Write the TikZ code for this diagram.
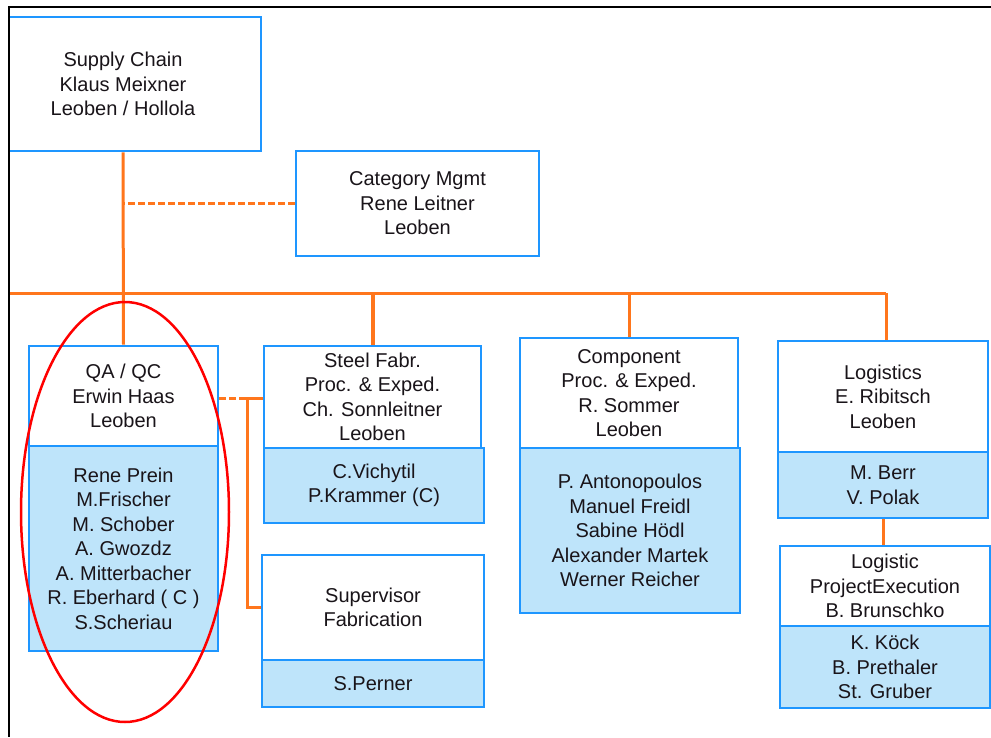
\documentclass[tikz,border=0pt]{standalone}
\usepackage{fontspec}
\newfontfamily\orgfont{Liberation Sans}
\definecolor{boxblue}{RGB}{30,150,255}
\definecolor{staffblue}{RGB}{190,228,250}
\definecolor{linkorange}{RGB}{255,118,28}
\definecolor{inkdark}{RGB}{25,20,25}
\tikzset{
  unit/.style={draw=boxblue, line width=2.6pt, fill=white, inner sep=0pt,
    align=center, text=inkdark, font={\orgfont\fontsize{20}{24.5}\selectfont}},
  staff/.style={unit, fill=staffblue},
  link/.style={draw=linkorange, line width=3pt},
  droplink/.style={link, line width=4pt},
  aux/.style={draw=linkorange, line width=3pt, dash pattern=on 7pt off 3pt},
  highlight/.style={draw=red, line width=2.5pt},
  pageframe/.style={draw=black, line width=2pt}
}
\begin{document}
\begin{tikzpicture}[x=1pt,y=-1pt]
\useasboundingbox (0,0) rectangle (991,737);
\fill[white] (0,0) rectangle (991,737);
\begin{scope}
\clip (9,7) rectangle (991,737);
% top of the chart
\node[unit, minimum width=276pt, minimum height=134pt] (supply) at (123,84)
  {Supply Chain\\Klaus Meixner\\Leoben / Hollola};
\node[unit, minimum width=243pt, minimum height=105pt] (category) at (417.5,203.5)
  {Category Mgmt\\Rene Leitner\\Leoben};
% departments
\node[unit, minimum width=189pt, minimum height=100pt] (qa) at (123.5,396)
  {QA / QC\\Erwin Haas\\Leoben};
\node[staff, minimum width=189pt, minimum height=205pt] (qaStaff) at (123.5,548.5)
  {Rene Prein\\M.Frischer\\M. Schober\\A. Gwozdz\\A. Mitterbacher\\R. Eberhard ( C )\\S.Scheriau};
\node[unit, minimum width=217pt, minimum height=102pt] (steel) at (372.5,397)
  {Steel Fabr.\\Proc. \& Exped.\\Ch. Sonnleitner\\Leoben};
\node[staff, minimum width=220pt, minimum height=75pt] (steelStaff) at (374,485.5)
  {C.Vichytil\\P.Krammer (C)};
\node[unit, minimum width=222pt, minimum height=105pt] (supervisor) at (373,607.5)
  {Supervisor\\Fabrication};
\node[staff, minimum width=222pt, minimum height=47pt] (supervisorStaff) at (373,683.5)
  {S.Perner};
\node[unit, minimum width=218pt, minimum height=110pt] (component) at (629,393)
  {Component\\Proc. \& Exped.\\R. Sommer\\Leoben};
\node[staff, minimum width=220pt, minimum height=165pt] (componentStaff) at (630,530.5)
  {P. Antonopoulos\\Manuel Freidl\\Sabine Hödl\\Alexander Martek\\Werner Reicher};
\node[unit, minimum width=210pt, minimum height=111pt] (logistics) at (883,396.5)
  {Logistics\\E. Ribitsch\\Leoben};
\node[staff, minimum width=210pt, minimum height=66pt] (logisticsStaff) at (883,485)
  {M. Berr\\V. Polak};
\node[unit, minimum width=210pt, minimum height=80pt] (logproj) at (885,586)
  {Logistic\\ProjectExecution\\B. Brunschko};
\node[staff, minimum width=210pt, minimum height=82pt] (logprojStaff) at (885,667)
  {K. Köck\\B. Prethaler\\St. Gruber};
% connectors
\coordinate (busWest) at (-20,293);
\coordinate (busEast) at (886,293);
\coordinate (tap) at (247,398);
\draw[link] (supply.south) -- (qa.north);
\draw[aux] (category.west) -- (category.west -| supply.south);
\draw[link] (busWest) -- (busEast);
\draw[droplink] (steel.north) -- (steel.north |- busEast);
\draw[link] (component.north) -- (component.north |- busEast);
\draw[link] (busEast) -- (busEast |- logistics.north);
\draw[aux] (qa.east |- tap) -- (tap);
\draw[link] (steel.west |- tap) -- (tap) |- (supervisor.west);
\draw[link] (logisticsStaff.south) -- (logisticsStaff.south |- logproj.north);
% marked group
\draw[highlight] (125,512) ellipse [x radius=104pt, y radius=210pt];
\end{scope}
% page edge
\draw[pageframe] (991,7) -- (9,7) -- (9,737);
\end{tikzpicture}
\end{document}
